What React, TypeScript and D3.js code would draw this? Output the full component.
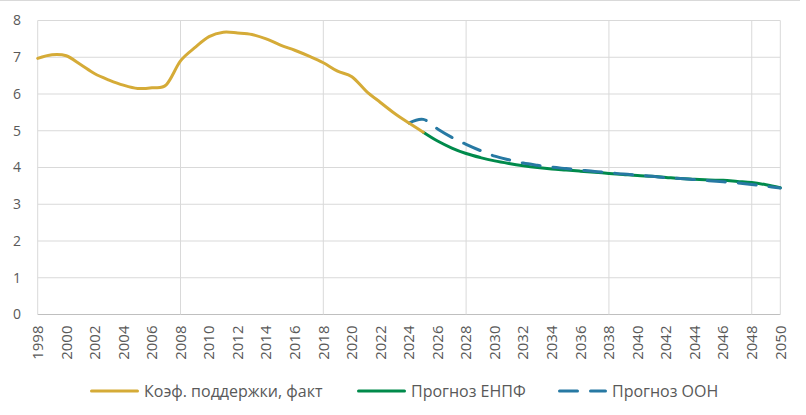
import React from 'react';
import * as d3 from 'd3';

const years = d3.range(1998, 2051);
const tickYears = years.filter((y) => (y - 1998) % 2 === 0);
const gridYears = [2008, 2018, 2028, 2038, 2048];
const yTicks = [0, 1, 2, 3, 4, 5, 6, 7, 8];

// коэф. поддержки, факт: 1998–2025
const factYears = d3.range(1998, 2026);
const factValues = [
  6.97, 7.07, 7.04, 6.8, 6.55, 6.38, 6.24, 6.15, 6.17, 6.25, 6.9, 7.26, 7.56, 7.68,
  7.66, 7.62, 7.5, 7.33, 7.19, 7.03, 6.85, 6.62, 6.47, 6.08, 5.77, 5.47, 5.21, 4.96,
];

// прогноз ЕНПФ: 2025–2050
const enpfYears = d3.range(2025, 2051);
const enpfValues = [
  4.96, 4.72, 4.53, 4.38, 4.27, 4.18, 4.11, 4.05, 4.0, 3.96, 3.93, 3.9, 3.87, 3.84,
  3.81, 3.78, 3.76, 3.73, 3.7, 3.68, 3.66, 3.65, 3.62, 3.59, 3.53, 3.45,
];

// прогноз ООН: 2024–2050
const unYears = d3.range(2024, 2051);
const unValues = [
  5.21, 5.31, 5.05, 4.82, 4.63, 4.46, 4.31, 4.21, 4.12, 4.06, 4.01, 3.97, 3.93, 3.89,
  3.86, 3.82, 3.79, 3.76, 3.72, 3.7, 3.67, 3.64, 3.61, 3.58, 3.54, 3.49, 3.44,
];

const seriesNames = ['Коэф. поддержки, факт', 'Прогноз ЕНПФ', 'Прогноз ООН'];
const colors = ['#D5AB37', '#008A4B', '#2779A3'];

const W = 806;
const H = 415;
const margin = { left: 37.7, right: 25.7, top: 20.5, bottom: 100.5 };

export default function App() {
  const x = d3
    .scaleLinear()
    .domain([1998, 2050])
    .range([margin.left, W - margin.right]);
  const y = d3
    .scaleLinear()
    .domain([0, 8])
    .range([H - margin.bottom, margin.top]);

  const line = d3
    .line<[number, number]>()
    .x((d) => x(d[0]))
    .y((d) => y(d[1]))
    .curve(d3.curveCardinal.tension(0));

  const fact = line(factYears.map((yr, i) => [yr, factValues[i]]));
  const enpf = line(enpfYears.map((yr, i) => [yr, enpfValues[i]]));
  const un = line(unYears.map((yr, i) => [yr, unValues[i]]));

  const tickFont = '"Open Sans", "DejaVu Sans", sans-serif';
  const legendItems = [
    { name: seriesNames[0], color: colors[0], x0: 90, dash: undefined },
    { name: seriesNames[1], color: colors[1], x0: 357, dash: undefined },
    { name: seriesNames[2], color: colors[2], x0: 558, dash: '18 13' },
  ];

  return (
    <svg
      width={W}
      height={H}
      style={{ position: 'absolute', left: 0, top: 0, background: '#fff' }}
    >
      <line x1={0} x2={800} y1={0.5} y2={0.5} stroke="#D9D9D9" />

      {/* horizontal gridlines */}
      {yTicks.map((t) => (
        <line
          key={'h' + t}
          x1={x(1998)}
          x2={x(2050)}
          y1={y(t)}
          y2={y(t)}
          stroke={t === 0 ? '#BFBFBF' : '#D9D9D9'}
          strokeWidth={1}
        />
      ))}
      {/* vertical gridlines */}
      {[1998, ...gridYears, 2050].map((g) => (
        <line
          key={'v' + g}
          x1={x(g)}
          x2={x(g)}
          y1={y(8)}
          y2={y(0)}
          stroke="#D9D9D9"
          strokeWidth={1}
        />
      ))}

      {yTicks.map((t) => (
        <text
          key={'yt' + t}
          x={21}
          y={y(t)}
          dy="0.35em"
          textAnchor="end"
          fontFamily={tickFont}
          fontSize={14}
          fill="#595959"
        >
          {t}
        </text>
      ))}

      {tickYears.map((yr) => (
        <text
          key={'xt' + yr}
          transform={`translate(${x(yr)},${y(0) + 11}) rotate(-90)`}
          dy="0.35em"
          textAnchor="end"
          fontFamily={tickFont}
          fontSize={15}
          fill="#595959"
        >
          {yr}
        </text>
      ))}

      <path d={enpf || ''} fill="none" stroke={colors[1]} strokeWidth={3} strokeLinecap="round" />
      <path
        d={un || ''}
        fill="none"
        stroke={colors[2]}
        strokeWidth={3}
        strokeLinecap="round"
        strokeDasharray="18 13"
      />
      <path d={fact || ''} fill="none" stroke={colors[0]} strokeWidth={3} strokeLinecap="round" />

      {legendItems.map((it) => (
        <g key={it.name}>
          <line
            x1={it.x0 + 1.5}
            x2={it.x0 + 47.5}
            y1={391}
            y2={391}
            stroke={it.color}
            strokeWidth={3}
            strokeLinecap="round"
            strokeDasharray={it.dash}
          />
          <text
            x={it.x0 + 54}
            y={391}
            dy="0.36em"
            fontFamily={tickFont}
            fontSize={16}
            fill="#595959"
          >
            {it.name}
          </text>
        </g>
      ))}
    </svg>
  );
}
